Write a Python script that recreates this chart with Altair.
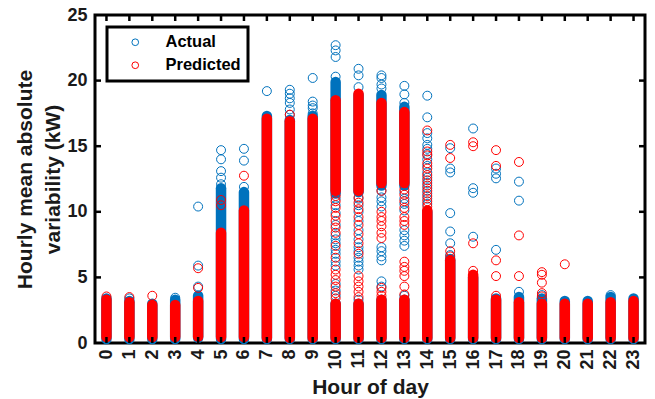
import altair as alt
import pandas as pd

BLUE = "#0072BD"
RED = "#FF0000"
FONT = "Liberation Sans"

hours = list(range(24))
y_ticks = [0, 5, 10, 15, 20, 25]
series_names = ["Actual", "Predicted"]

# Dense stacks of overlapping circles (hour, lowest centre, highest centre)
act_band_hour = [0, 1, 2, 3, 4, 5, 6, 7, 8, 9, 10, 10, 11, 11, 12, 12, 13, 13,
                 14, 15, 16, 17, 18, 19, 20, 21, 22, 23]
act_band_lo = [0.3, 0.3, 0.3, 0.3, 0.4, 0.3, 0.3, 0.3, 0.3, 0.3, 0.3, 11.4, 0.3, 11.5,
               0.3, 12.0, 0.3, 12.0, 0.3, 0.3, 0.3, 0.3, 0.3, 0.3, 0.3, 0.3, 0.3, 0.3]
act_band_hi = [3.4, 3.2, 3.0, 3.3, 3.6, 11.8, 11.5, 17.3, 17.0, 17.3, 3.0, 19.9, 3.0, 18.9,
               3.3, 18.9, 3.3, 18.0, 10.0, 6.4, 5.0, 3.4, 3.5, 3.4, 3.2, 3.2, 3.5, 3.4]

pred_band_hour = [0, 1, 2, 3, 4, 5, 6, 7, 8, 9, 10, 10, 11, 11, 12, 12, 13, 13,
                  14, 15, 16, 17, 18, 19, 20, 21, 22, 23]
pred_band_lo = [0.45, 0.45, 0.45, 0.45, 0.5, 0.45, 0.45, 0.4, 0.4, 0.4, 0.4, 11.6, 0.4, 11.6,
                0.4, 12.2, 0.4, 12.2, 0.4, 0.4, 0.4, 0.4, 0.4, 0.4, 0.4, 0.4, 0.4, 0.4]
pred_band_hi = [3.3, 3.1, 2.9, 2.9, 3.2, 8.4, 10.1, 17.1, 16.9, 17.1, 3.0, 18.5, 3.0, 19.0,
                3.3, 18.3, 3.3, 17.6, 10.1, 6.3, 5.2, 3.3, 3.1, 3.0, 3.0, 3.0, 3.1, 3.2]

# Individually visible circles
act_pt_hour = ([1, 3] + [4] * 3 + [5] * 5 + [6] * 3 + [7] + [8] * 6 + [9] * 5 + [10] * 18
               + [11] * 16 + [12] * 14 + [13] * 12 + [14] * 16 + [15] * 7 + [16] * 4
               + [17] * 4 + [18] * 3 + [19, 22])
act_pt_val = [3.4, 3.45,
              4.3, 5.9, 10.4,
              12.1, 12.6, 13.1, 14.0, 14.7,
              11.9, 13.9, 14.8,
              19.2,
              17.4, 17.8, 18.3, 18.65, 19.0, 19.3,
              17.5, 17.9, 18.1, 18.4, 20.2,
              3.6, 4.0, 4.5, 5.9, 6.2, 6.8, 7.1, 7.6, 7.9, 8.2, 9.0, 9.9, 10.5, 11.0,
              20.3, 21.8, 22.3, 22.7,
              3.3, 5.6, 5.9, 6.2, 6.5, 7.0, 7.3, 7.9, 8.6, 9.3, 10.0, 10.5, 11.0,
              19.5, 20.4, 20.9,
              4.3, 4.7, 6.3, 6.6, 7.0, 7.3, 10.4, 10.8, 11.1, 11.6, 19.4, 19.7, 20.2, 20.4,
              3.6, 7.4, 7.8, 8.2, 8.6, 10.1, 10.6, 11.0, 11.5, 18.3, 18.95, 19.6,
              10.6, 11.0, 11.4, 11.8, 12.2, 12.6, 13.0, 13.5, 14.0, 14.4, 14.8, 15.1,
              15.6, 16.0, 17.2, 18.85,
              6.7, 7.6, 8.5, 9.9, 13.0, 13.3, 14.85,
              8.1, 11.45, 11.8, 16.35,
              7.1, 12.55, 12.9, 13.3,
              3.9, 10.85, 12.3,
              3.65, 3.65]

pred_pt_hour = ([0, 1, 2] + [4] * 2 + [5] * 2 + [6, 8] + [10] * 15 + [11] * 13 + [12] * 10
                + [13] * 13 + [14] * 12 + [15] * 4 + [16] * 4 + [17] * 5 + [18] * 3
                + [19] * 5 + [20])
pred_pt_val = [3.55, 3.5, 3.6,
               4.2, 5.7,
               10.5, 10.9,
               12.75, 17.4,
               3.4, 3.8, 4.3, 4.8, 5.2, 5.6, 6.5, 7.4, 8.4, 8.8, 9.3, 9.7, 10.3, 10.8, 11.2,
               3.5, 3.9, 4.3, 4.7, 5.1, 6.8, 7.6, 8.3, 9.0, 9.6, 10.2, 10.7, 11.1,
               3.6, 3.9, 4.2, 8.0, 8.4, 8.9, 9.3, 9.6, 10.0, 11.6,
               3.7, 4.3, 5.1, 5.5, 5.8, 6.2, 9.0, 9.3, 9.6, 10.3, 10.8, 11.3, 11.7,
               10.4, 10.8, 11.2, 11.6, 12.0, 12.4, 12.8, 13.3, 13.7, 14.3, 14.6, 16.2,
               6.6, 7.0, 14.1, 15.1,
               5.5, 7.6, 15.0, 15.3,
               3.6, 5.1, 6.3, 13.5, 14.7,
               5.1, 8.2, 13.8,
               3.55, 3.8, 4.6, 5.2, 5.4,
               6.0]

W, H = 550, 328

act_band = pd.DataFrame({"hour": act_band_hour, "lo": act_band_lo, "hi": act_band_hi})
pred_band = pd.DataFrame({"hour": pred_band_hour, "lo": pred_band_lo, "hi": pred_band_hi})
act_pts = pd.DataFrame({"hour": act_pt_hour, "value": act_pt_val, "series": "Actual"})
pred_pts = pd.DataFrame({"hour": pred_pt_hour, "value": pred_pt_val, "series": "Predicted"})
xt = pd.DataFrame({"hour": hours})
yt = pd.DataFrame({"value": y_ticks[1:-1]})

xscale = alt.Scale(domain=[-0.5, 23.5], nice=False, zero=False)
yscale = alt.Scale(domain=[0, 25], nice=False, zero=True)

xaxis = alt.Axis(values=hours, labelAngle=-90, title="Hour of day", grid=False,
                 domain=False, ticks=False, labelFontSize=18, labelFontWeight="bold",
                 labelOverlap=False, labelFlush=False, labelBound=False,
                 labelPadding=6, titleFontSize=21, titleFontWeight="bold",
                 titlePadding=7, labelColor="#1a1a1a", titleColor="#1a1a1a")
yaxis = alt.Axis(values=y_ticks, title=["Hourly mean absolute", "variability (kW)"],
                 grid=False, domain=False, ticks=False, labelFontSize=18,
                 labelOverlap=False, labelFlush=False,
                 labelFontWeight="bold", labelPadding=8, titleFontSize=21,
                 titleFontWeight="bold", titlePadding=3, titleLineHeight=28,
                 labelColor="#1a1a1a", titleColor="#1a1a1a")


def XE(field="hour"):
    return alt.X(f"{field}:Q", scale=xscale, axis=xaxis)


def YE(field="value"):
    return alt.Y(f"{field}:Q", scale=yscale, axis=yaxis)


color = alt.Color("series:N",
                  scale=alt.Scale(domain=series_names, range=[BLUE, RED]),
                  legend=alt.Legend(orient="none", legendX=12, legendY=12, title=None,
                                    strokeColor="black", padding=7, symbolType="circle",
                                    symbolSize=45, symbolStrokeWidth=1,
                                    symbolOffset=13, labelOffset=22, rowPadding=6,
                                    labelFontSize=16.5, labelFontWeight="bold",
                                    labelColor="black"))

PSIZE = 80
BW = 10.5

blue_band = alt.Chart(act_band).mark_rule(strokeWidth=BW, strokeCap="round", color=BLUE).encode(
    x=XE(), y=YE("lo"), y2="hi:Q")
blue_pts = alt.Chart(act_pts).mark_point(shape="circle", filled=False, size=PSIZE, strokeWidth=1,
                                         opacity=1).encode(x=XE(), y=YE(), color=color)
red_band = alt.Chart(pred_band).mark_rule(strokeWidth=BW, strokeCap="round", color=RED).encode(
    x=XE(), y=YE("lo"), y2="hi:Q")
red_pts = alt.Chart(pred_pts).mark_point(shape="circle", filled=False, size=PSIZE, strokeWidth=1,
                                         opacity=1).encode(x=XE(), y=YE(), color=color)

tick_top = alt.Chart(xt).mark_rule(color="black", strokeWidth=2.5).encode(
    x=XE(), y=alt.value(0), y2=alt.value(6))
tick_bot = alt.Chart(xt).mark_rule(color="black", strokeWidth=2.5).encode(
    x=XE(), y=alt.value(H), y2=alt.value(H - 6))
tick_left = alt.Chart(yt).mark_rule(color="black", strokeWidth=2.5).encode(
    y=YE(), x=alt.value(0), x2=alt.value(6))
tick_right = alt.Chart(yt).mark_rule(color="black", strokeWidth=2.5).encode(
    y=YE(), x=alt.value(W), x2=alt.value(W - 6))

chart = alt.layer(blue_band, blue_pts, red_band, red_pts,
                  tick_top, tick_bot, tick_left, tick_right).properties(
    width=W, height=H,
    autosize=alt.AutoSizeParams(type="none"),
    padding={"left": 95, "top": 15, "right": 10, "bottom": 56},
    background="white",
).configure(font=FONT).configure_view(
    stroke="black", strokeWidth=3
).configure_legend(strokeWidth=3)

chart.save("out.html", embed_options={"renderer": "svg", "actions": False})
